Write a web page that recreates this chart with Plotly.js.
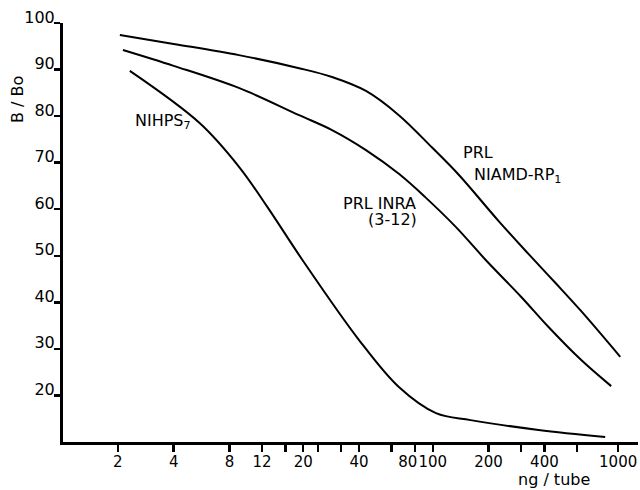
<!DOCTYPE html>
<html>
<head>
<meta charset="utf-8">
<script src="https://cdn.plot.ly/plotly-3.0.1.min.js"></script>
<style>html,body{margin:0;padding:0;background:#fff;}#chart{width:640px;height:490px;}</style>
</head>
<body>
<div id="chart"></div>
<script>
// ng / tube values and B/Bo (%)
const niamdX = [2.05, 4, 9, 19, 28.6, 43.6, 65.6, 98.8, 138, 226, 328, 458, 632, 1026];
const niamdY = [97.4, 95.5, 93.1, 90.3, 88.4, 85.4, 80.2, 73.3, 67.4, 57.5, 50.4, 44.2, 38.1, 28.3];

const inraX = [2.13, 4, 9.05, 19, 28.6, 43.6, 65.6, 91, 133, 193, 301, 421, 632, 917];
const inraY = [94.2, 90.8, 86.0, 80.2, 77.0, 72.7, 67.6, 62.6, 56.2, 49.1, 41.1, 34.7, 27.6, 22.0];

const nihpsX = [2.32, 5.52, 9.05, 12.8, 19.8, 40, 65.6, 104, 160, 372, 851];
const nihpsY = [89.7, 78.5, 69.0, 60.5, 49.1, 31.9, 21.8, 16.2, 14.7, 12.6, 11.1];

const xTickVals = [2, 4, 8, 12, 20, 40, 80, 100, 200, 400, 1000];
const xTickText = ["2", "4", "8", "12", "20", "40", "80\u00a0\u00a0\u00a0", "100", "200", "400", "1000"];
const xMinorVals = [16, 24, 32, 60, 300, 600];
const yTickVals = [20, 30, 40, 50, 60, 70, 80, 90, 100];
const yTickText = ["20", "30", "40", "50", "60", "70", "80", "90", "100"];

const FONT = "DejaVu Sans, sans-serif";
const line = {color: "#000", width: 2, shape: "spline", smoothing: 1};

const traces = [
  {x: niamdX, y: niamdY, mode: "lines", line: line, hoverinfo: "skip"},
  {x: inraX, y: inraY, mode: "lines", line: line, hoverinfo: "skip"},
  {x: nihpsX, y: nihpsY, mode: "lines", line: line, hoverinfo: "skip"}
];

function ann(text, x, y, xanchor, extra) {
  return Object.assign({text: text, x: x, y: y, xref: "paper", yref: "paper",
    xanchor: xanchor, yanchor: "middle", showarrow: false,
    font: {family: FONT, size: 16, color: "#000"}}, extra || {});
}

const layout = {
  width: 640, height: 490,
  margin: {l: 63, r: 2, t: 23, b: 48},
  paper_bgcolor: "#fff", plot_bgcolor: "#fff",
  showlegend: false,
  font: {family: FONT, size: 16, color: "#000"},
  xaxis: {
    type: "log", range: [0.005, 3.107],
    showgrid: false, zeroline: false,
    showline: true, linecolor: "#000", linewidth: 3,
    ticks: "outside", ticklen: 7, tickwidth: 2.5, tickcolor: "#000",
    tickmode: "array", tickvals: xTickVals, ticktext: xTickText,
    tickangle: 0, ticklabelstandoff: -3,
    tickfont: {family: FONT, size: 15, color: "#000"},
    minor: {tickmode: "array", tickvals: xMinorVals, ticks: "outside",
            ticklen: 7, tickwidth: 2.5, tickcolor: "#000", showgrid: false}
  },
  yaxis: {
    range: [10, 100],
    showgrid: false, zeroline: false,
    showline: true, linecolor: "#000", linewidth: 3,
    ticks: "outside", ticklen: 6, tickwidth: 2.5, tickcolor: "#000",
    tickmode: "array", tickvals: yTickVals, ticktext: yTickText,
    ticklabelshift: -6, ticklabelstandoff: -4,
    tickfont: {family: FONT, size: 16, color: "#000"}
  },
  annotations: [
    ann("NIHPS<sub>7</sub>", 0.121, 0.765, "left"),
    ann("PRL", 0.693, 0.690, "left"),
    ann("NIAMD-RP<sub>1</sub>", 0.711, 0.636, "left"),
    ann("PRL INRA", 0.484, 0.570, "left"),
    ann("(3-12)", 0.527, 0.530, "left"),
    ann("ng / tube", 0.854, -0.090, "center"),
    ann("B / Bo", -0.080, 0.816, "center", {textangle: -90})
  ]
};

Plotly.newPlot("chart", traces, layout, {displayModeBar: false, staticPlot: true});
</script>
</body>
</html>
